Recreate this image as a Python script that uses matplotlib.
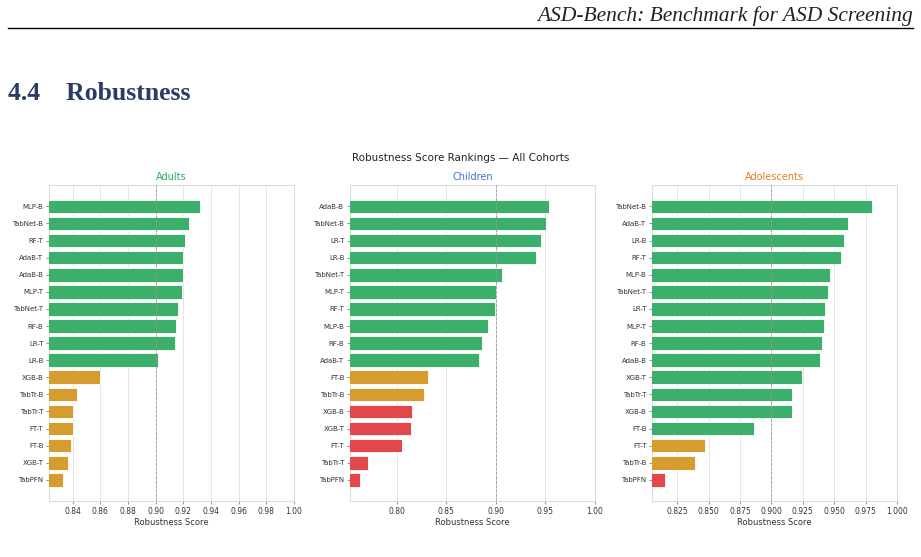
import matplotlib.pyplot as plt

# data (top to bottom as shown)
adults_models = ['MLP-B', 'TabNet-B', 'RF-T', 'AdaB-T', 'AdaB-B', 'MLP-T', 'TabNet-T', 'RF-B',
                 'LR-T', 'LR-B', 'XGB-B', 'TabTr-B', 'TabTr-T', 'FT-T', 'FT-B', 'XGB-T', 'TabPFN']
adults_scores = [0.932, 0.924, 0.921, 0.920, 0.920, 0.919, 0.916, 0.915,
                 0.914, 0.902, 0.860, 0.843, 0.840, 0.840, 0.839, 0.837, 0.833]

children_models = ['AdaB-B', 'TabNet-B', 'LR-T', 'LR-B', 'TabNet-T', 'MLP-T', 'RF-T', 'MLP-B',
                   'RF-B', 'AdaB-T', 'FT-B', 'TabTr-B', 'XGB-B', 'XGB-T', 'FT-T', 'TabTr-T', 'TabPFN']
children_scores = [0.954, 0.951, 0.946, 0.941, 0.906, 0.900, 0.899, 0.892,
                   0.886, 0.883, 0.832, 0.828, 0.816, 0.815, 0.805, 0.771, 0.763]

adol_models = ['TabNet-B', 'AdaB-T', 'LR-B', 'RF-T', 'MLP-B', 'TabNet-T', 'LR-T', 'MLP-T',
               'RF-B', 'AdaB-B', 'XGB-T', 'TabTr-T', 'XGB-B', 'FT-B', 'FT-T', 'TabTr-B', 'TabPFN']
adol_scores = [0.980, 0.961, 0.958, 0.955, 0.947, 0.945, 0.943, 0.942,
               0.940, 0.939, 0.924, 0.916, 0.916, 0.886, 0.847, 0.839, 0.815]

cohorts = ['Adults', 'Children', 'Adolescents']
title_colors = ['#27ae60', '#3b6fd8', '#e67e22']


def bar_color(v):
    if v >= 0.87:
        return '#3cb06a'
    if v >= 0.82:
        return '#d69c2f'
    return '#e2474b'


fig = plt.figure(figsize=(9.21, 5.57), dpi=100)

# page header
fig.text(0.991, 0.972, 'ASD-Bench: Benchmark for ASD Screening', ha='right', va='center',
         family='Liberation Serif', style='italic', fontsize=15.5, color='#222222')
fig.add_artist(plt.Line2D([0.009, 0.991], [0.949, 0.949], color='black', lw=1.0))
fig.text(0.009, 0.833, '4.4    Robustness', ha='left', va='center',
         family='Liberation Serif', weight='bold', fontsize=18.5, color='#2b3a67')

fig.text(0.5, 0.717, 'Robustness Score Rankings — All Cohorts', ha='center', va='center',
         fontsize=7.5, color='#222222')

lefts = [0.0532, 0.380, 0.708]
data = [(adults_models, adults_scores), (children_models, children_scores),
        (adol_models, adol_scores)]

for left, (models, scores), name, tc in zip(lefts, data, cohorts, title_colors):
    ax = fig.add_axes([left, 0.1005, 0.266, 0.567])
    y = list(range(len(models)))[::-1]
    ax.barh(y, scores, height=0.8, color=[bar_color(v) for v in scores],
            edgecolor='white', linewidth=0.6, zorder=3)
    ax.set_yticks(y)
    ax.set_yticklabels(models)
    ax.set_xlim(min(scores) - 0.01, 1.0)
    ax.axvline(0.9, color='#999999', linestyle='--', linewidth=0.6, zorder=4)
    ax.grid(axis='x', color='#e6e6e6', linewidth=0.7, zorder=0)
    ax.set_axisbelow(True)
    ax.set_title(name, color=tc, fontsize=7, pad=4)
    ax.set_xlabel('Robustness Score', fontsize=6, color='#333333', labelpad=2)
    ax.tick_params(axis='y', labelsize=5, length=2, width=0.5, color='#666666',
                   labelcolor='#333333', pad=2)
    ax.tick_params(axis='x', labelsize=5.5, length=2, width=0.5, color='#666666',
                   labelcolor='#333333', pad=2)
    for s in ax.spines.values():
        s.set_color('#dddddd')
        s.set_linewidth(0.8)

fig.savefig('out.png', dpi=100)
